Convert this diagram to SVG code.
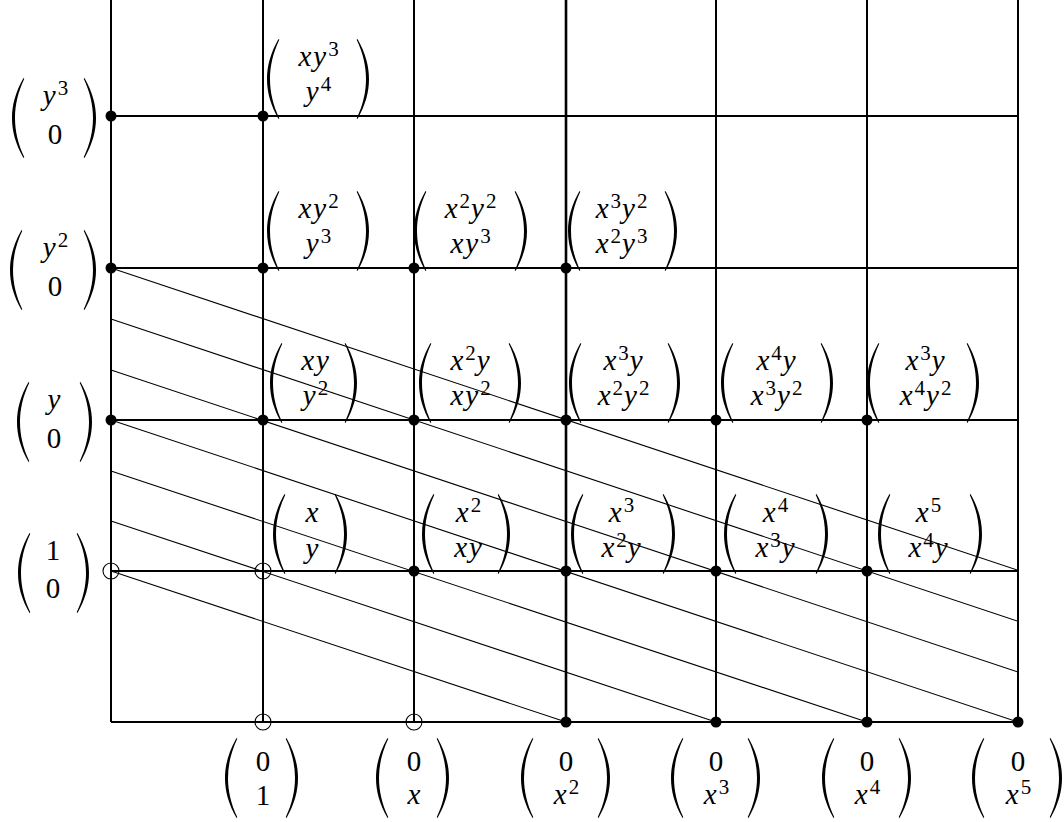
<svg xmlns="http://www.w3.org/2000/svg" xmlns:xlink="http://www.w3.org/1999/xlink" width="1064" height="822" viewBox="0 0 1064 822">
<style>
.grid line{stroke:#000;stroke-width:2}
.base{stroke:#000;stroke-width:3.2}
.conn line{stroke:#000;stroke-width:1.1}
.dot{fill:#000}
.open{fill:none;stroke:#000;stroke-width:1.1}
.t{font-family:"Liberation Serif","Times New Roman",serif;font-size:29px;fill:#000}
.v{font-style:italic;letter-spacing:2px}
.s{font-size:21px;font-style:normal;letter-spacing:1px}
</style>
<defs>
<path id="lp" d="M12.5,0 C4.5,14 1,27 1,40 C1,53 4.5,66 12.5,80 L13.3,79.3 C7,66 4,53 4,40 C4,27 7,14 13.3,0.7 Z"/>
<path id="rp" d="M0.5,0 C8.5,14 12,27 12,40 C12,53 8.5,66 0.5,80 L-0.3,79.3 C6,66 9,53 9,40 C9,27 6,14 -0.3,0.7 Z"/>
</defs>
<rect width="1064" height="822" fill="#fff"/>
<g id="grid" class="grid">
<line x1="111" y1="0" x2="111" y2="722"/>
<line x1="263" y1="0" x2="263" y2="722"/>
<line x1="414" y1="0" x2="414" y2="722"/>
<line x1="566" y1="0" x2="566" y2="722" style="stroke-width:2.6"/>
<line x1="716" y1="0" x2="716" y2="722"/>
<line x1="867" y1="0" x2="867" y2="722"/>
<line x1="1018" y1="0" x2="1018" y2="722"/>
<line x1="111" y1="116" x2="1018" y2="116"/>
<line x1="111" y1="268" x2="1018" y2="268"/>
<line x1="111" y1="420" x2="1018" y2="420"/>
<line x1="111" y1="571" x2="1018" y2="571"/>
<line class="base" x1="111" y1="722" x2="1018" y2="722"/>
</g>
<g id="connectors" class="conn">
<line x1="111" y1="268" x2="1018" y2="570.3"/>
<line x1="111" y1="319" x2="1018" y2="621.3"/>
<line x1="111" y1="370" x2="1018" y2="672"/>
<line x1="111" y1="420" x2="1018" y2="722"/>
<line x1="111" y1="471" x2="867" y2="722"/>
<line x1="111" y1="521" x2="716" y2="722"/>
<line x1="111" y1="571" x2="566" y2="722"/>
</g>
<g id="n-y3-0">
<circle class="dot" cx="111" cy="116" r="5.5"/>
<use href="#lp" x="11" y="78"/><use href="#rp" x="84" y="78"/>
<text class="t" x="56" y="105" text-anchor="middle"><tspan class="v">y</tspan><tspan class="s" dy="-10">3</tspan></text>
<text class="t" x="55" y="144" text-anchor="middle">0</text>
</g>
<g id="n-y2-0">
<circle class="dot" cx="111" cy="268" r="5.5"/>
<use href="#lp" x="9" y="230"/><use href="#rp" x="84" y="230"/>
<text class="t" x="56" y="257" text-anchor="middle"><tspan class="v">y</tspan><tspan class="s" dy="-10">2</tspan></text>
<text class="t" x="55" y="296" text-anchor="middle">0</text>
</g>
<g id="n-y-0">
<circle class="dot" cx="111" cy="420" r="5.5"/>
<use href="#lp" x="16" y="382"/><use href="#rp" x="80" y="382"/>
<text class="t" x="55" y="409" text-anchor="middle"><tspan class="v">y</tspan></text>
<text class="t" x="54" y="448" text-anchor="middle">0</text>
</g>
<g id="n-1-0">
<circle class="open" cx="111" cy="571" r="8"/>
<use href="#lp" x="17" y="533"/><use href="#rp" x="77" y="533"/>
<text class="t" x="53" y="560" text-anchor="middle">1</text>
<text class="t" x="53" y="598" text-anchor="middle">0</text>
</g>
<g id="n-xy3-y4">
<circle class="dot" cx="263" cy="116" r="5.5"/>
<use href="#lp" x="266" y="39"/><use href="#rp" x="357" y="39"/>
<text class="t" x="319" y="66" text-anchor="middle"><tspan class="v">xy</tspan><tspan class="s" dy="-10">3</tspan></text>
<text class="t" x="319" y="101" text-anchor="middle"><tspan class="v">y</tspan><tspan class="s" dy="-10">4</tspan></text>
</g>
<g id="n-xy2-y3">
<circle class="dot" cx="263" cy="268" r="5.5"/>
<use href="#lp" x="266" y="191"/><use href="#rp" x="357" y="191"/>
<text class="t" x="319" y="218" text-anchor="middle"><tspan class="v">xy</tspan><tspan class="s" dy="-10">2</tspan></text>
<text class="t" x="319" y="253" text-anchor="middle"><tspan class="v">y</tspan><tspan class="s" dy="-10">3</tspan></text>
</g>
<g id="n-x2y2-xy3">
<circle class="dot" cx="414" cy="268" r="5.5"/>
<use href="#lp" x="413" y="191"/><use href="#rp" x="515" y="191"/>
<text class="t" x="471" y="218" text-anchor="middle"><tspan class="v">x</tspan><tspan class="s" dy="-10">2</tspan><tspan class="v" dy="10">y</tspan><tspan class="s" dy="-10">2</tspan></text>
<text class="t" x="471" y="253" text-anchor="middle"><tspan class="v">xy</tspan><tspan class="s" dy="-10">3</tspan></text>
</g>
<g id="n-x3y2-x2y3">
<circle class="dot" cx="566" cy="268" r="5.5"/>
<use href="#lp" x="567" y="191"/><use href="#rp" x="665" y="191"/>
<text class="t" x="622" y="218" text-anchor="middle"><tspan class="v">x</tspan><tspan class="s" dy="-10">3</tspan><tspan class="v" dy="10">y</tspan><tspan class="s" dy="-10">2</tspan></text>
<text class="t" x="622" y="253" text-anchor="middle"><tspan class="v">x</tspan><tspan class="s" dy="-10">2</tspan><tspan class="v" dy="10">y</tspan><tspan class="s" dy="-10">3</tspan></text>
</g>
<g id="n-xy-y2">
<circle class="dot" cx="263" cy="420" r="5.5"/>
<use href="#lp" x="269" y="343"/><use href="#rp" x="345" y="343"/>
<text class="t" x="316" y="370" text-anchor="middle"><tspan class="v">xy</tspan></text>
<text class="t" x="316" y="405" text-anchor="middle"><tspan class="v">y</tspan><tspan class="s" dy="-10">2</tspan></text>
</g>
<g id="n-x2y-xy2">
<circle class="dot" cx="414" cy="420" r="5.5"/>
<use href="#lp" x="418" y="343"/><use href="#rp" x="509" y="343"/>
<text class="t" x="471" y="370" text-anchor="middle"><tspan class="v">x</tspan><tspan class="s" dy="-10">2</tspan><tspan class="v" dy="10">y</tspan></text>
<text class="t" x="471" y="405" text-anchor="middle"><tspan class="v">xy</tspan><tspan class="s" dy="-10">2</tspan></text>
</g>
<g id="n-x3y-x2y2">
<circle class="dot" cx="566" cy="420" r="5.5"/>
<use href="#lp" x="568" y="343"/><use href="#rp" x="668" y="343"/>
<text class="t" x="624" y="370" text-anchor="middle"><tspan class="v">x</tspan><tspan class="s" dy="-10">3</tspan><tspan class="v" dy="10">y</tspan></text>
<text class="t" x="624" y="405" text-anchor="middle"><tspan class="v">x</tspan><tspan class="s" dy="-10">2</tspan><tspan class="v" dy="10">y</tspan><tspan class="s" dy="-10">2</tspan></text>
</g>
<g id="n-x4y-x3y2">
<circle class="dot" cx="716" cy="420" r="5.5"/>
<use href="#lp" x="720" y="343"/><use href="#rp" x="821" y="343"/>
<text class="t" x="777" y="370" text-anchor="middle"><tspan class="v">x</tspan><tspan class="s" dy="-10">4</tspan><tspan class="v" dy="10">y</tspan></text>
<text class="t" x="777" y="405" text-anchor="middle"><tspan class="v">x</tspan><tspan class="s" dy="-10">3</tspan><tspan class="v" dy="10">y</tspan><tspan class="s" dy="-10">2</tspan></text>
</g>
<g id="n-x3y-x4y2">
<circle class="dot" cx="867" cy="420" r="5.5"/>
<use href="#lp" x="866" y="343"/><use href="#rp" x="967" y="343"/>
<text class="t" x="926" y="370" text-anchor="middle"><tspan class="v">x</tspan><tspan class="s" dy="-10">3</tspan><tspan class="v" dy="10">y</tspan></text>
<text class="t" x="926" y="405" text-anchor="middle"><tspan class="v">x</tspan><tspan class="s" dy="-10">4</tspan><tspan class="v" dy="10">y</tspan><tspan class="s" dy="-10">2</tspan></text>
</g>
<g id="n-x-y">
<circle class="open" cx="263" cy="571" r="8"/>
<use href="#lp" x="272" y="494"/><use href="#rp" x="335" y="494"/>
<text class="t" x="313" y="522" text-anchor="middle"><tspan class="v">x</tspan></text>
<text class="t" x="313" y="558" text-anchor="middle"><tspan class="v">y</tspan></text>
</g>
<g id="n-x2-xy">
<circle class="dot" cx="414" cy="571" r="5.5"/>
<use href="#lp" x="421" y="494"/><use href="#rp" x="498" y="494"/>
<text class="t" x="469" y="522" text-anchor="middle"><tspan class="v">x</tspan><tspan class="s" dy="-10">2</tspan></text>
<text class="t" x="469" y="557" text-anchor="middle"><tspan class="v">xy</tspan></text>
</g>
<g id="n-x3-x2y">
<circle class="dot" cx="566" cy="571" r="5.5"/>
<use href="#lp" x="570" y="494"/><use href="#rp" x="663" y="494"/>
<text class="t" x="622" y="522" text-anchor="middle"><tspan class="v">x</tspan><tspan class="s" dy="-10">3</tspan></text>
<text class="t" x="622" y="557" text-anchor="middle"><tspan class="v">x</tspan><tspan class="s" dy="-10">2</tspan><tspan class="v" dy="10">y</tspan></text>
</g>
<g id="n-x4-x3y">
<circle class="dot" cx="716" cy="571" r="5.5"/>
<use href="#lp" x="723" y="494"/><use href="#rp" x="816" y="494"/>
<text class="t" x="776" y="522" text-anchor="middle"><tspan class="v">x</tspan><tspan class="s" dy="-10">4</tspan></text>
<text class="t" x="776" y="557" text-anchor="middle"><tspan class="v">x</tspan><tspan class="s" dy="-10">3</tspan><tspan class="v" dy="10">y</tspan></text>
</g>
<g id="n-x5-x4y">
<circle class="dot" cx="867" cy="571" r="5.5"/>
<use href="#lp" x="877" y="494"/><use href="#rp" x="970" y="494"/>
<text class="t" x="929" y="522" text-anchor="middle"><tspan class="v">x</tspan><tspan class="s" dy="-10">5</tspan></text>
<text class="t" x="929" y="557" text-anchor="middle"><tspan class="v">x</tspan><tspan class="s" dy="-10">4</tspan><tspan class="v" dy="10">y</tspan></text>
</g>
<g id="n-0-1">
<circle class="open" cx="263" cy="722" r="8"/>
<use href="#lp" x="224" y="738"/><use href="#rp" x="286" y="738"/>
<text class="t" x="263" y="771" text-anchor="middle">0</text>
<text class="t" x="263" y="805" text-anchor="middle">1</text>
</g>
<g id="n-0-x">
<circle class="open" cx="414" cy="722" r="8"/>
<use href="#lp" x="375" y="738"/><use href="#rp" x="437" y="738"/>
<text class="t" x="414" y="771" text-anchor="middle">0</text>
<text class="t" x="415" y="804" text-anchor="middle"><tspan class="v">x</tspan></text>
</g>
<g id="n-0-x2">
<circle class="dot" cx="566" cy="722" r="5.5"/>
<use href="#lp" x="520" y="738"/><use href="#rp" x="598" y="738"/>
<text class="t" x="566" y="771" text-anchor="middle">0</text>
<text class="t" x="567" y="804" text-anchor="middle"><tspan class="v">x</tspan><tspan class="s" dy="-10">2</tspan></text>
</g>
<g id="n-0-x3">
<circle class="dot" cx="716" cy="722" r="5.5"/>
<use href="#lp" x="670" y="738"/><use href="#rp" x="748" y="738"/>
<text class="t" x="716" y="771" text-anchor="middle">0</text>
<text class="t" x="717" y="804" text-anchor="middle"><tspan class="v">x</tspan><tspan class="s" dy="-10">3</tspan></text>
</g>
<g id="n-0-x4">
<circle class="dot" cx="867" cy="722" r="5.5"/>
<use href="#lp" x="821" y="738"/><use href="#rp" x="899" y="738"/>
<text class="t" x="867" y="771" text-anchor="middle">0</text>
<text class="t" x="868" y="804" text-anchor="middle"><tspan class="v">x</tspan><tspan class="s" dy="-10">4</tspan></text>
</g>
<g id="n-0-x5">
<circle class="dot" cx="1018" cy="722" r="5.5"/>
<use href="#lp" x="971" y="738"/><use href="#rp" x="1050" y="738"/>
<text class="t" x="1018" y="771" text-anchor="middle">0</text>
<text class="t" x="1019" y="804" text-anchor="middle"><tspan class="v">x</tspan><tspan class="s" dy="-10">5</tspan></text>
</g>
</svg>
